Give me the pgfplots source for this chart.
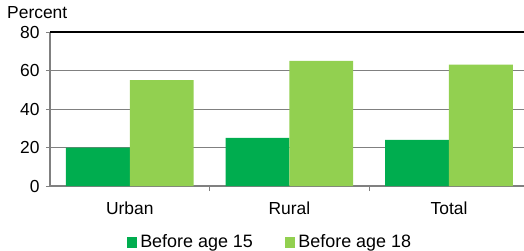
\documentclass[border=0pt]{standalone}
\usepackage{pgfplots}
\pgfplotsset{compat=1.18}
\usepackage{fontspec}
\setmainfont{Liberation Sans}
\usetikzlibrary{calc}
\definecolor{dkgreen}{RGB}{0,173,79}
\definecolor{ltgreen}{RGB}{146,208,80}
\definecolor{axgray}{RGB}{128,128,128}
\begin{document}
\begin{tikzpicture}[x=1bp,y=1bp]
\begin{axis}[
  name=ax,
  scale only axis,
  width=474bp, height=154bp,
  xmin=-0.5, xmax=2.47,
  ymin=0, ymax=80,
  ytick={0,20,40,60,80},
  xtick={0,1,2},
  xticklabels={Urban,Rural,Total},
  /pgf/number format/assume math mode=true,
  major x tick style={draw=none},
  extra x ticks={0.5,1.5},
  extra x tick labels={},
  extra x tick style={major x tick style={draw=axgray,line width=1pt}, major tick length=5bp, grid=none},
  tick align=outside,
  axis x line*=bottom,
  axis y line*=left,
  x axis line style={draw=axgray, line width=1.6pt, -},
  y axis line style={draw=axgray, line width=1.3pt, -},
  y tick style={draw=axgray, line width=1pt},
  major tick length=4bp,
  ymajorgrids,
  grid style={axgray, line width=1pt},
  ybar, bar width=0.4,
  tick label style={font=\fontsize{17.5}{20}\selectfont},
  yticklabel style={xshift=-3bp},
  xticklabel style={yshift=-8bp},
  legend style={at={(0.464,-0.29)}, anchor=north, draw=none, legend columns=2,
    font=\fontsize{18}{20}\selectfont, /tikz/every even column/.append style={column sep=30bp},
    /tikz/every odd column/.append style={column sep=1bp}},
  legend image code/.code={\fill[#1] (0bp,-5.5bp) rectangle (10.5bp,5.5bp);},
  clip=false,
]
\addplot[fill=dkgreen, draw=none, bar shift=-0.2] coordinates {(0,20) (1,25) (2,24)};
\addplot[fill=ltgreen, draw=none, bar shift=0.2] coordinates {(0,55) (1,65) (2,63)};
\legend{Before age 15, Before age 18}
\draw[black, line width=1.5pt] (rel axis cs:0,1) -- (rel axis cs:1,1);
\end{axis}
\node[anchor=west, font=\fontsize{17.5}{20}\selectfont, inner sep=0pt] at ($(ax.north west)+(-43bp,19bp)$) {Percent};
\pgfresetboundingbox
\path[use as bounding box] ($(ax.south west)+(-50bp,-65bp)$) rectangle ($(ax.south west)+(474bp,186bp)$);
\end{tikzpicture}
\end{document}
